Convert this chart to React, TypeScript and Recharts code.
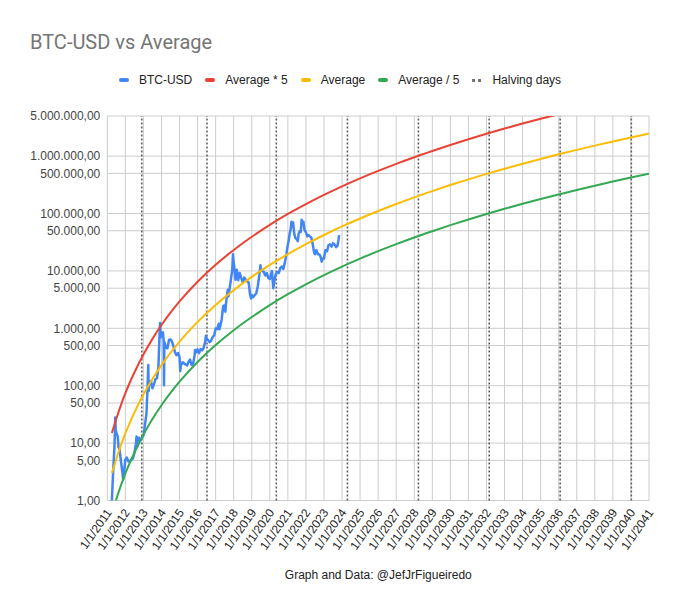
import React from 'react';
import { LineChart, Line, XAxis, YAxis, CartesianGrid, ReferenceLine } from 'recharts';

// tick positions (decimal years) and price ticks of the log axis
const yearTicks = [
  2011, 2012, 2013, 2014, 2015, 2016, 2017, 2018, 2019, 2020, 2021, 2022, 2023, 2024, 2025, 2026,
  2027, 2028, 2029, 2030, 2031, 2032, 2033, 2034, 2035, 2036, 2037, 2038, 2039, 2040, 2041,
];
const priceTicks = [1, 5, 10, 50, 100, 500, 1000, 5000, 10000, 50000, 100000, 500000, 1000000, 5000000];

// halving days, in decimal years
const halvingDays = [2012.91, 2016.52, 2020.36, 2024.3, 2028.23, 2032.15, 2036.08, 2040.02];

// average curves
const avgYears = [
  2011.25, 2011.5, 2011.75, 2012, 2012.5, 2013, 2013.5, 2014, 2014.5, 2015, 2016, 2017, 2018, 2019,
  2020, 2021, 2022, 2023, 2024, 2025, 2026, 2027, 2028, 2029, 2030, 2031, 2032, 2033, 2034, 2035,
  2036, 2037, 2038, 2039, 2040, 2041,
];
const average = [
  3.0, 5.3, 9.1, 14.8, 34, 70, 131, 228, 375, 588, 1297, 2558, 4634, 7870, 12700, 19630, 29240,
  42270, 59570, 81850, 110400, 146500, 191400, 246000, 313300, 393600, 489800, 603900, 737800,
  893300, 1074000, 1285000, 1525000, 1799000, 2113000, 2472000,
];
const averageTimes5 = [
  15, 26.5, 45.5, 74, 170, 350, 655, 1140, 1875, 2940, 6485, 12790, 23170, 39350, 63500, 98150,
  146200, 211350, 297850, 409250, 552000, 732500, 957000, 1230000, 1566500, 1968000, 2449000,
  3019500, 3689000, 4466500, 5370000, 6425000, 7625000, 8995000, 10565000, 12360000,
];
const averageDiv5 = [
  0.6, 1.06, 1.82, 2.96, 6.8, 14, 26.2, 45.6, 75, 117.6, 259.4, 511.6, 926.8, 1574, 2540, 3926,
  5848, 8454, 11914, 16370, 22080, 29300, 38280, 49200, 62660, 78720, 97960, 120780, 147560,
  178660, 214800, 257000, 305000, 359800, 422600, 494400,
];

// BTC-USD price
const btcYears = [
  2011.25, 2011.33, 2011.4, 2011.44, 2011.47, 2011.5, 2011.58, 2011.62, 2011.67, 2011.75, 2011.83, 2011.88, 2011.92,
  2012.0, 2012.08, 2012.17, 2012.25, 2012.33, 2012.42, 2012.5, 2012.58, 2012.62, 2012.65, 2012.67, 2012.75, 2012.83, 2012.92,
  2013.0, 2013.08, 2013.17, 2013.23, 2013.27, 2013.29, 2013.33, 2013.42, 2013.5, 2013.58, 2013.67, 2013.75, 2013.83, 2013.89, 2013.92, 2013.96,
  2014.0, 2014.08, 2014.12, 2014.14, 2014.16, 2014.25, 2014.33, 2014.42, 2014.5, 2014.58, 2014.67, 2014.75, 2014.83, 2014.92,
  2015.0, 2015.04, 2015.08, 2015.17, 2015.25, 2015.33, 2015.42, 2015.5, 2015.58, 2015.67, 2015.75, 2015.83, 2015.86, 2015.92,
  2016.0, 2016.08, 2016.17, 2016.25, 2016.33, 2016.42, 2016.46, 2016.5, 2016.58, 2016.67, 2016.75, 2016.83, 2016.92,
  2017.0, 2017.08, 2017.17, 2017.21, 2017.25, 2017.33, 2017.42, 2017.5, 2017.54, 2017.58, 2017.67, 2017.71, 2017.75, 2017.83, 2017.92, 2017.96,
  2018.0, 2018.06, 2018.1, 2018.17, 2018.25, 2018.33, 2018.42, 2018.5, 2018.58, 2018.67, 2018.75, 2018.83, 2018.9, 2018.96,
  2019.0, 2019.08, 2019.17, 2019.25, 2019.33, 2019.42, 2019.48, 2019.5, 2019.58, 2019.67, 2019.75, 2019.83, 2019.92,
  2020.0, 2020.12, 2020.19, 2020.25, 2020.33, 2020.42, 2020.5, 2020.58, 2020.67, 2020.75, 2020.83, 2020.92,
  2021.0, 2021.04, 2021.1, 2021.15, 2021.2, 2021.25, 2021.29, 2021.35, 2021.42, 2021.48, 2021.55, 2021.6, 2021.67, 2021.72, 2021.76, 2021.8, 2021.86, 2021.92,
  2022.0, 2022.08, 2022.15, 2022.22, 2022.3, 2022.37, 2022.45, 2022.5, 2022.58, 2022.67, 2022.75, 2022.83, 2022.87, 2022.92,
  2023.0, 2023.08, 2023.17, 2023.25, 2023.33, 2023.42, 2023.5, 2023.58, 2023.67, 2023.75, 2023.8, 2023.84,
];
const btcUsd = [
  0.95, 3.5, 9, 28, 17, 15, 13, 8.5, 8, 5, 3.2, 2.3, 3,
  5.2, 5.6, 4.8, 4.9, 5.1, 5.4, 6.7, 9.5, 13, 8.5, 10.5, 12.4, 11, 12.5,
  13.5, 20, 33, 95, 230, 80, 115, 120, 90, 105, 130, 135, 210, 700, 1240, 700,
  800, 850, 600, 102, 580, 460, 450, 630, 640, 590, 480, 380, 340, 370,
  315, 180, 230, 255, 245, 235, 225, 260, 285, 230, 240, 330, 420, 380,
  430, 370, 435, 415, 450, 580, 740, 670, 620, 575, 610, 700, 750,
  990, 970, 1200, 960, 1080, 1400, 2450, 2500, 1950, 2850, 4700, 3600, 4400, 6500, 10500, 19500,
  14000, 9500, 7000, 10500, 6900, 9200, 7500, 6400, 7700, 7000, 6600, 6300, 4000, 3300,
  3800, 3500, 3800, 4100, 5300, 8500, 12500, 10800, 10000, 9600, 8300, 9200, 7500,
  7200, 10000, 5000, 6600, 8800, 9500, 9200, 11300, 11900, 10800, 13800, 19700,
  29000, 33000, 45000, 52000, 72000, 60000, 70000, 45000, 37000, 36000, 33000, 45000, 50000, 48000, 78000, 68000, 72000, 52000,
  47000, 40000, 42000, 40000, 38000, 30000, 21000, 19500, 23000, 19500, 19300, 17000, 14500, 16500,
  16500, 23000, 22000, 28000, 29000, 26500, 30500, 29000, 26000, 27500, 34000, 42000,
];

const btcData = btcYears.map((t, i) => ({ t, price: btcUsd[i] }));
const avgData = avgYears.map((t, i) => ({
  t,
  hi: averageTimes5[i],
  mid: average[i],
  lo: averageDiv5[i],
}));

const BLUE = '#4285f4';
const RED = '#ea4335';
const YELLOW = '#fbbc04';
const GREEN = '#34a853';
const ARIAL = '"Liberation Sans", Arial, sans-serif';

// 5000000 -> "5.000.000,00"
function fmtPrice(v: number): string {
  return Math.round(v).toString().replace(/\B(?=(\d{3})+(?!\d))/g, '.') + ',00';
}

function YearTick(props: any) {
  const { x, y, payload } = props;
  return (
    <g transform={`translate(${x + 5},${y + 4})`}>
      <text transform="rotate(-55)" textAnchor="end" fontSize={12} fill="#222" fontFamily={ARIAL}>
        {`1/1/${payload.value}`}
      </text>
    </g>
  );
}

const legendItems = [
  { name: 'BTC-USD', color: BLUE },
  { name: 'Average * 5', color: RED },
  { name: 'Average', color: YELLOW },
  { name: 'Average / 5', color: GREEN },
  { name: 'Halving days', color: '#757575', dotted: true },
];

export default function App() {
  return (
    <div style={{ position: 'absolute', left: 0, top: 0, width: 680, height: 613, background: '#fff' }}>
      <div
        style={{
          position: 'absolute',
          left: 30,
          top: 30,
          fontFamily: 'Roboto, sans-serif',
          fontSize: 20,
          color: '#757575',
          whiteSpace: 'nowrap',
        }}
      >
        BTC-USD vs Average
      </div>

      <div
        style={{
          position: 'absolute',
          left: 0,
          top: 73,
          width: 680,
          display: 'flex',
          justifyContent: 'center',
          fontFamily: ARIAL,
          fontSize: 12,
          color: '#222',
        }}
      >
        {legendItems.map(it => (
          <div key={it.name} style={{ display: 'flex', alignItems: 'center', margin: '0 6.5px' }}>
            {it.dotted ? (
              <span style={{ display: 'flex', gap: 3, width: 10, marginRight: 10 }}>
                <span style={{ width: 3, height: 3, background: it.color }} />
                <span style={{ width: 3, height: 3, background: it.color }} />
              </span>
            ) : (
              <span style={{ width: 10, height: 4, borderRadius: 2, background: it.color, marginRight: 10 }} />
            )}
            <span style={{ whiteSpace: 'nowrap' }}>{it.name}</span>
          </div>
        ))}
      </div>

      <LineChart width={680} height={613} margin={{ top: 116, right: 31, bottom: 0, left: 0 }}>
        <CartesianGrid stroke="#cccccc" strokeWidth={1} />
        <XAxis
          type="number"
          dataKey="t"
          domain={[2011, 2041]}
          ticks={yearTicks}
          interval={0}
          allowDataOverflow
          height={112.5}
          axisLine={false}
          tickLine={false}
          tick={<YearTick />}
        />
        <YAxis
          type="number"
          scale="log"
          domain={[1, 5000000]}
          ticks={priceTicks}
          interval={0}
          allowDataOverflow
          width={107.3}
          axisLine={false}
          tickLine={false}
          tickMargin={1}
          tickFormatter={fmtPrice}
          tick={{ fontSize: 12, fill: '#444', fontFamily: ARIAL }}
        />
        {halvingDays.map(d => (
          <ReferenceLine key={d} x={d} stroke="#616161" strokeWidth={1.6} strokeDasharray="2 2" />
        ))}
        <Line
          data={btcData}
          dataKey="price"
          name="BTC-USD"
          type="linear"
          stroke={BLUE}
          strokeWidth={2.5}
          strokeLinejoin="round"
          dot={false}
          isAnimationActive={false}
        />
        <Line
          data={avgData}
          dataKey="hi"
          name="Average * 5"
          type="monotone"
          stroke={RED}
          strokeWidth={2}
          dot={false}
          isAnimationActive={false}
        />
        <Line
          data={avgData}
          dataKey="mid"
          name="Average"
          type="monotone"
          stroke={YELLOW}
          strokeWidth={2}
          dot={false}
          isAnimationActive={false}
        />
        <Line
          data={avgData}
          dataKey="lo"
          name="Average / 5"
          type="monotone"
          stroke={GREEN}
          strokeWidth={2}
          dot={false}
          isAnimationActive={false}
        />
      </LineChart>

      <div
        style={{
          position: 'absolute',
          left: 107.3,
          width: 542,
          top: 568,
          textAlign: 'center',
          fontFamily: ARIAL,
          fontSize: 12,
          color: '#222',
        }}
      >
        Graph and Data: @JefJrFigueiredo
      </div>
    </div>
  );
}
